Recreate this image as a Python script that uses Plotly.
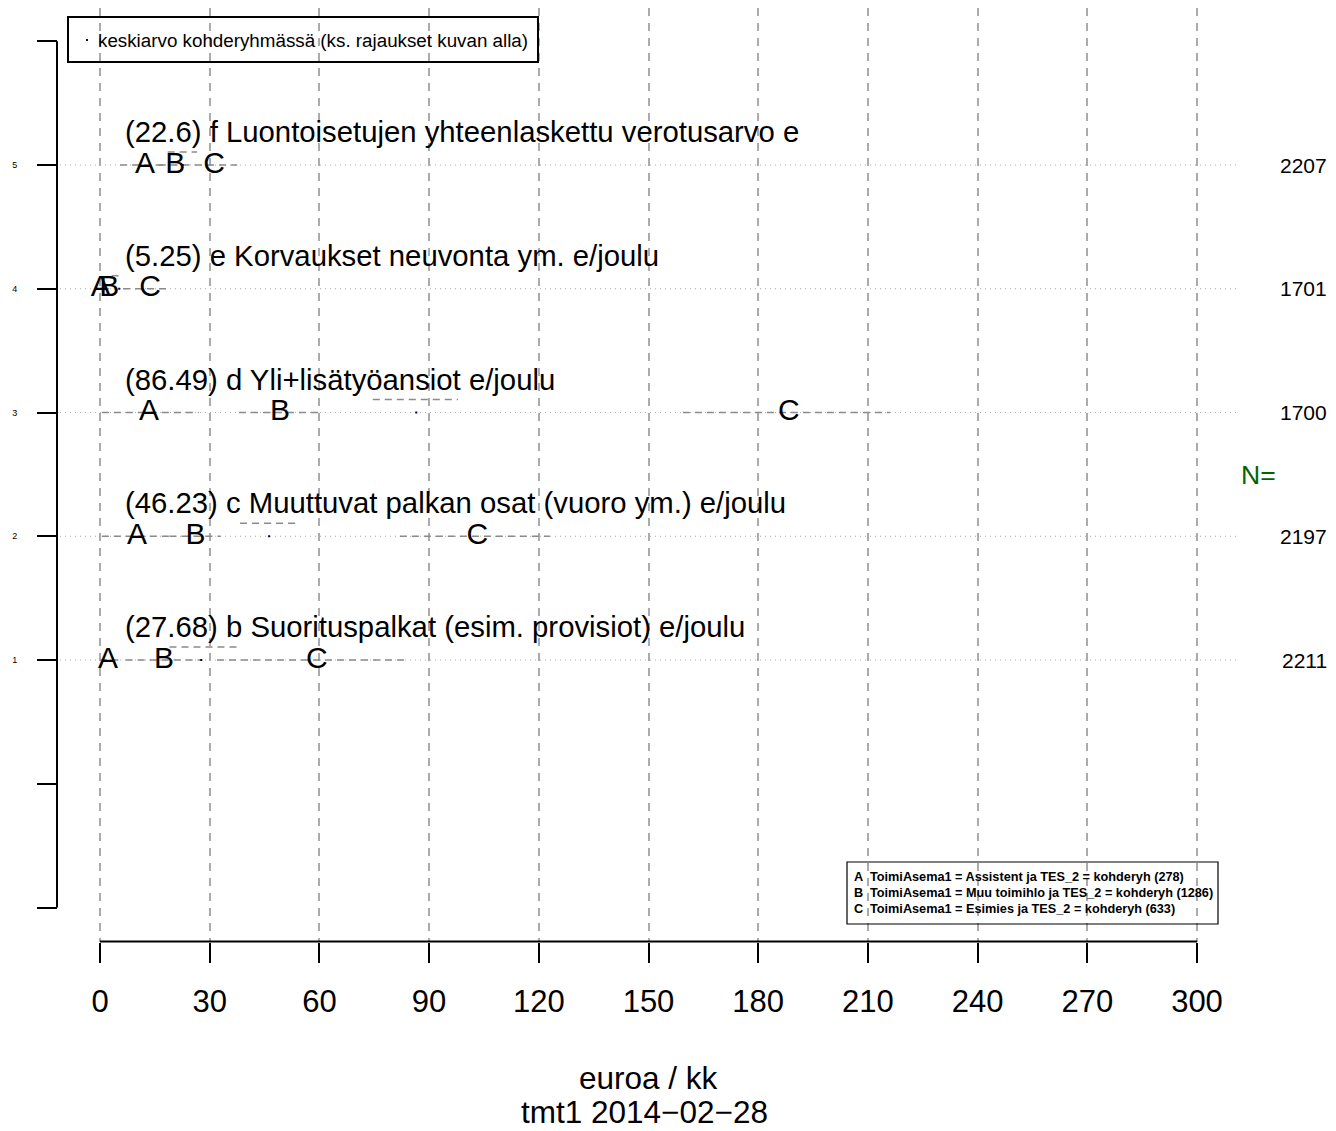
import plotly.graph_objects as go

# ---------------- data ----------------
row_pos = [1, 2, 3, 4, 5]
row_labels = [
    "(27.68) b Suorituspalkat (esim. provisiot) e/joulu",
    "(46.23) c Muuttuvat palkan osat (vuoro ym.) e/joulu",
    "(86.49) d Yli+lisätyöansiot e/joulu",
    "(5.25) e Korvaukset neuvonta ym. e/joulu",
    "(22.6) f Luontoisetujen yhteenlaskettu verotusarvo e",
]
overall_mean = [27.68, 46.23, 86.49, 5.25, 22.6]
overall_lo = [19.0, 38.3, 74.6, 3.2, 18.5]
overall_hi = [37.5, 53.9, 97.9, 5.5, 26.5]

groups = ["A", "B", "C"]
group_mean = {
    "A": [2.2, 10.1, 13.4, 0.2, 12.3],
    "B": [17.5, 26.1, 49.2, 2.5, 20.6],
    "C": [59.3, 103.2, 188.4, 13.7, 31.2],
}
group_lo = {
    "A": [0.0, 0.5, 0.5, 0.0, 5.5],
    "B": [7.0, 19.0, 38.0, 0.5, 16.0],
    "C": [32.0, 82.0, 159.4, 6.3, 26.0],
}
group_hi = {
    "A": [5.0, 19.5, 27.0, 0.5, 19.0],
    "B": [28.0, 33.0, 60.0, 4.5, 26.0],
    "C": [83.4, 123.0, 216.0, 18.3, 37.5],
}
n_values = ["2211", "2197", "1700", "1701", "2207"]

x_ticks = [0, 30, 60, 90, 120, 150, 180, 210, 240, 270, 300]
y_ticks = [-1, 0, 1, 2, 3, 4, 5, 6]
y_ticktext = ["", "", "1", "2", "3", "4", "5", ""]

legend_top = "keskiarvo kohderyhmässä (ks. rajaukset kuvan alla)"
legend_groups = [
    ("A", "ToimiAsema1 = Assistent ja TES_2 = kohderyh (278)"),
    ("B", "ToimiAsema1 = Muu toimihlo ja TES_2 = kohderyh (1286)"),
    ("C", "ToimiAsema1 = Esimies ja TES_2 = kohderyh (633)"),
]
x_title = "euroa / kk"
sub_title = "tmt1 2014\u221202\u221228"

# ---------------- geometry ----------------
OFF = 8  # page body margin
W, H = 1336 - 2 * OFF, 1131 - 2 * OFF
PLOT_BOTTOM = 942 - OFF  # figure px
X0_PX, XPU = 100.0 - OFF, 1097.0 / 300.0
Y1_PX, YPU = 660.0 - OFF, 123.75


def xv(px):  # reference px -> x data
    return (px - OFF - X0_PX) / XPU


def yv(py):  # reference px -> y data
    return 1 + (Y1_PX - (py - OFF)) / YPU


def xp(px):  # reference px -> paper x
    return (px - OFF) / W


def yp(py):  # reference px -> paper y
    return (PLOT_BOTTOM - (py - OFF)) / PLOT_BOTTOM


FONT = "Liberation Sans, Arial, Helvetica, sans-serif"
GRID = "#ababab"
CI = "#8a8a8a"

fig = go.Figure()

# horizontal dotted row lines
for r in row_pos:
    fig.add_trace(go.Scatter(
        x=[xv(40), xv(1240)], y=[r, r], mode="lines",
        line=dict(color=GRID, width=1, dash="1px,4px"),
        hoverinfo="skip", showlegend=False))

# group CIs (dashed) on the row
for g in groups:
    for i, r in enumerate(row_pos):
        fig.add_trace(go.Scatter(
            x=[group_lo[g][i], group_hi[g][i]], y=[r, r], mode="lines",
            line=dict(color=CI, width=1.3, dash="7px,5px"),
            hoverinfo="skip", showlegend=False))

# overall CI (dashed) slightly above the row
for i, r in enumerate(row_pos):
    fig.add_trace(go.Scatter(
        x=[overall_lo[i], overall_hi[i]], y=[r + 0.105, r + 0.105], mode="lines",
        line=dict(color=CI, width=1.4, dash="7px,5px"),
        hoverinfo="skip", showlegend=False))

# overall mean dots
fig.add_trace(go.Scatter(
    x=overall_mean, y=row_pos, mode="markers",
    marker=dict(color="#000080", size=2, symbol="square"),
    hoverinfo="skip", showlegend=False))

# group letters
for g in groups:
    fig.add_trace(go.Scatter(
        x=group_mean[g], y=row_pos, mode="text", text=[g] * len(row_pos),
        textposition="middle center",
        textfont=dict(family=FONT, size=30, color="black"),
        hoverinfo="skip", showlegend=False))

annotations = []
# row labels and N values
for i, r in enumerate(row_pos):
    annotations.append(dict(
        x=xv(123), y=r + 0.27, xref="x", yref="y", text=row_labels[i],
        showarrow=False, xanchor="left", yanchor="middle",
        font=dict(family=FONT, size=29.3, color="black")))
    annotations.append(dict(
        x=xp(1329), y=r, xref="paper", yref="y", text=n_values[i],
        showarrow=False, xanchor="right", yanchor="middle",
        font=dict(family=FONT, size=21, color="black")))

annotations.append(dict(
    x=xp(1258), y=yv(475), xref="paper", yref="y", text="N=",
    showarrow=False, xanchor="center", yanchor="middle",
    font=dict(family=FONT, size=26.5, color="#006400")))

# top legend
annotations.append(dict(
    x=xp(96), y=yp(40), xref="paper", yref="paper", text=legend_top,
    showarrow=False, xanchor="left", yanchor="middle",
    font=dict(family=FONT, size=18.8, color="black")))
fig.add_trace(go.Scatter(
    x=[xv(87)], y=[yv(40)], mode="markers",
    marker=dict(color="#000080", size=2, symbol="square"),
    hoverinfo="skip", showlegend=False, cliponaxis=False))

# bottom-right legend
for k, (letter, txt) in enumerate(legend_groups):
    ypix = 877 + 16 * k
    annotations.append(dict(
        x=xp(852), y=yp(ypix), xref="paper", yref="paper", text="<b>" + letter + "</b>",
        showarrow=False, xanchor="left", yanchor="middle",
        font=dict(family=FONT, size=12.7, color="black")))
    annotations.append(dict(
        x=xp(868), y=yp(ypix), xref="paper", yref="paper", text="<b>" + txt + "</b>",
        showarrow=False, xanchor="left", yanchor="middle",
        font=dict(family=FONT, size=12.7, color="black")))

# x titles
annotations.append(dict(
    x=xv(648), y=yp(1078), xref="x", yref="paper", text=x_title,
    showarrow=False, xanchor="center", yanchor="middle",
    font=dict(family=FONT, size=31.5, color="black")))
annotations.append(dict(
    x=xv(644), y=yp(1112), xref="x", yref="paper", text=sub_title,
    showarrow=False, xanchor="center", yanchor="middle",
    font=dict(family=FONT, size=31.5, color="black")))

shapes = [
    # x axis line (0..300)
    dict(type="line", xref="x", yref="paper", x0=0, x1=300,
         y0=yp(941.5), y1=yp(941.5), line=dict(color="black", width=2)),
    # left axis line
    dict(type="line", xref="paper", yref="y", x0=xp(57), x1=xp(57),
         y0=-1, y1=6, line=dict(color="black", width=2)),
    # top legend box
    dict(type="rect", xref="paper", yref="paper", x0=xp(68), x1=xp(538),
         y0=yp(62), y1=yp(17), line=dict(color="black", width=2),
         fillcolor="rgba(0,0,0,0)"),
    # bottom legend box
    dict(type="rect", xref="paper", yref="paper", x0=xp(847), x1=xp(1218),
         y0=yp(924), y1=yp(862), line=dict(color="black", width=1.2),
         fillcolor="rgba(0,0,0,0)"),
]

fig.update_layout(
    width=W, height=H,
    margin=dict(l=0, r=0, t=0, b=H - PLOT_BOTTOM, pad=0),
    plot_bgcolor="white", paper_bgcolor="white",
    showlegend=False,
    annotations=annotations,
    shapes=shapes,
    xaxis=dict(
        range=[xv(OFF), xv(W + OFF)], tickmode="array", tickvals=x_ticks,
        ticktext=[str(t) for t in x_ticks],
        showgrid=True, gridcolor=GRID, gridwidth=1.5, griddash="8px,7px",
        zeroline=False, showline=False,
        ticks="outside", ticklen=20, tickwidth=2, tickcolor="black",
        ticklabelstandoff=12,
        tickfont=dict(family=FONT, size=31, color="black"),
        fixedrange=True,
    ),
    yaxis=dict(
        range=[yv(PLOT_BOTTOM + OFF), yv(OFF)], tickmode="array", tickvals=y_ticks,
        ticktext=y_ticktext, anchor="free", position=xp(57),
        showgrid=False, zeroline=False, showline=False,
        ticks="outside", ticklen=20, tickwidth=2, tickcolor="black",
        ticklabelstandoff=18,
        tickfont=dict(family=FONT, size=9, color="black"),
        fixedrange=True,
    ),
)

fig.write_html("out.html")
